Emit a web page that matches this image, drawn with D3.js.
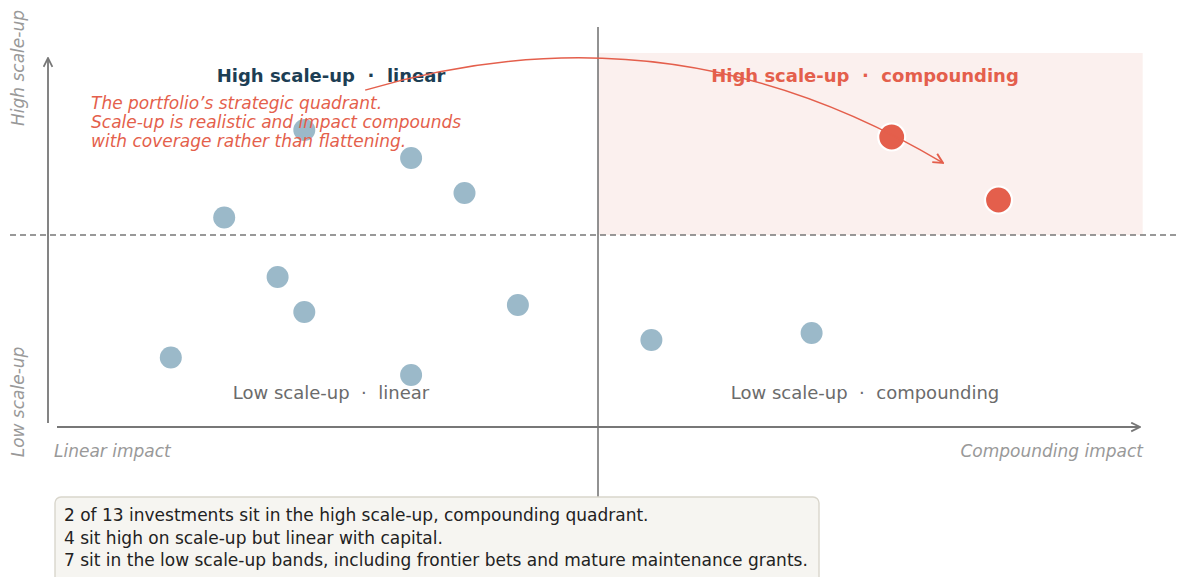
<!DOCTYPE html>
<html>
<head>
<meta charset="utf-8">
<script src="https://cdn.jsdelivr.net/npm/d3@7"></script>
<style>
  html, body { margin: 0; padding: 0; background: #ffffff; }
  svg { display: block; font-family: "DejaVu Sans", sans-serif; }
</style>
</head>
<body>
<svg id="chart" width="1178" height="577"></svg>
<script>
// Portfolio positions: impact (linear ← → compounding) vs scale-up (low ↓ ↑ high)
const names = ["A", "B", "C", "D", "E", "F", "G", "H", "I", "J", "K", "L", "M"];
const impact = [-8, -7, -6, -5.5, -5.5, -3.5, -3.5, -2.5, -1.5, 1, 4, 5.5, 7.5];
const scaleUp = [-3.5, 0.5, -1.2, 3.0, -2.2, 2.2, -4.0, 1.2, -2.0, -3.0, -2.8, 2.8, 1.0];

const quadrantTitles = ["High scale-up  ·  linear", "High scale-up  ·  compounding"];
const quadrantLower = ["Low scale-up  ·  linear", "Low scale-up  ·  compounding"];
const noteLines = [
  "The portfolio\u2019s strategic quadrant.",
  "Scale-up is realistic and impact compounds",
  "with coverage rather than flattening."
];
const summaryLines = [
  "2 of 13 investments sit in the high scale-up, compounding quadrant.",
  "4 sit high on scale-up but linear with capital.",
  "7 sit in the low scale-up bands, including frontier bets and mature maintenance grants."
];

const RED = "#e45f4c", BLUE = "#9bb9c9", NAVY = "#1d3e54", GREY = "#777777";

const svg = d3.select("#chart");
const x = d3.scaleLinear().domain([-10, 10]).range([64, 1132]);
const y = d3.scaleLinear().domain([-5, 5]).range([410, 60]);

const defs = svg.append("defs");
function openHead(id, color, size) {
  defs.append("marker").attr("id", id)
    .attr("viewBox", "0 0 10 10").attr("refX", 9).attr("refY", 5)
    .attr("markerWidth", size).attr("markerHeight", size)
    .attr("markerUnits", "userSpaceOnUse").attr("orient", "auto")
    .append("path").attr("d", "M1,1 L9,5 L1,9")
    .attr("fill", "none").attr("stroke", color).attr("stroke-width", 1.6);
}
openHead("axisHead", GREY, 11);
openHead("noteHead", RED, 12);

// highlighted quadrant
svg.append("rect")
  .attr("x", x(0)).attr("y", y(5.2))
  .attr("width", x(10.2) - x(0)).attr("height", y(0) - y(5.2))
  .attr("fill", "#fbf0ee");

// quadrant dividers
svg.append("line")
  .attr("x1", 10).attr("x2", 1178).attr("y1", y(0)).attr("y2", y(0))
  .attr("stroke", GREY).attr("stroke-width", 1.6).attr("stroke-dasharray", "6,4");
svg.append("line")
  .attr("x1", x(0)).attr("x2", x(0)).attr("y1", 27).attr("y2", 497)
  .attr("stroke", GREY).attr("stroke-width", 1.6);

// axis arrows
svg.append("line")
  .attr("x1", 48).attr("x2", 48).attr("y1", 423).attr("y2", 58)
  .attr("stroke", GREY).attr("stroke-width", 1.8).attr("marker-end", "url(#axisHead)");
svg.append("line")
  .attr("x1", 57).attr("x2", 1140).attr("y1", 427).attr("y2", 427)
  .attr("stroke", GREY).attr("stroke-width", 1.8).attr("marker-end", "url(#axisHead)");

// axis captions
const cap = svg.append("g").attr("fill", "#999999").attr("font-style", "italic").attr("font-size", 17);
cap.append("text").attr("x", 54).attr("y", 457).text("Linear impact");
cap.append("text").attr("x", 1143).attr("y", 457).attr("text-anchor", "end").text("Compounding impact");
cap.append("text").attr("transform", "translate(24,68) rotate(-90)").attr("text-anchor", "middle").text("High scale-up");
cap.append("text").attr("transform", "translate(24,402) rotate(-90)").attr("text-anchor", "middle").text("Low scale-up");

// quadrant labels
svg.append("text").attr("x", x(-5)).attr("y", 82).attr("text-anchor", "middle")
  .attr("font-size", 18).attr("font-weight", "bold").attr("fill", NAVY)
  .style("white-space", "pre").text(quadrantTitles[0]);
svg.append("text").attr("x", x(5)).attr("y", 82).attr("text-anchor", "middle")
  .attr("font-size", 18).attr("font-weight", "bold").attr("fill", RED)
  .style("white-space", "pre").text(quadrantTitles[1]);
svg.append("text").attr("x", x(-5)).attr("y", 399).attr("text-anchor", "middle")
  .attr("font-size", 18).attr("fill", "#6b6b6b")
  .style("white-space", "pre").text(quadrantLower[0]);
svg.append("text").attr("x", x(5)).attr("y", 399).attr("text-anchor", "middle")
  .attr("font-size", 18).attr("fill", "#6b6b6b")
  .style("white-space", "pre").text(quadrantLower[1]);

// points
const pts = impact.map((v, i) => ({ name: names[i], x: v, y: scaleUp[i] }));
const hot = d => d.x > 0 && d.y > 0;
svg.append("g").selectAll("circle").data(pts).join("circle")
  .attr("cx", d => x(d.x)).attr("cy", d => y(d.y))
  .attr("r", d => hot(d) ? 13.5 : 11)
  .attr("fill", d => hot(d) ? RED : BLUE)
  .attr("stroke", d => hot(d) ? "#ffffff" : "none")
  .attr("stroke-width", 2.2);

// annotation text
svg.append("g").attr("fill", RED).attr("font-style", "italic").attr("font-size", 17)
  .selectAll("text").data(noteLines).join("text")
  .attr("x", 91).attr("y", (d, i) => 109 + i * 19).text(d => d);

// curved annotation arrow
const p0 = [x(-4.36), y(4.14)], c = [x(1.35), y(6.73)], p1 = [x(6.46), y(2.06)];
const arc = d3.path();
arc.moveTo(p0[0], p0[1]);
arc.quadraticCurveTo(c[0], c[1], p1[0], p1[1]);
svg.append("path").attr("d", arc.toString())
  .attr("fill", "none").attr("stroke", RED).attr("stroke-width", 1.5)
  .attr("marker-end", "url(#noteHead)");

// summary box
svg.append("rect").attr("x", 55).attr("y", 497).attr("width", 764).attr("height", 100)
  .attr("rx", 6).attr("fill", "#f6f5f1").attr("stroke", "#d9d6cc").attr("stroke-width", 1.4);
svg.append("g").attr("fill", "#222222").attr("font-size", 17)
  .selectAll("text").data(summaryLines).join("text")
  .attr("x", 64).attr("y", (d, i) => 521 + i * 22.5).text(d => d);
</script>
</body>
</html>
